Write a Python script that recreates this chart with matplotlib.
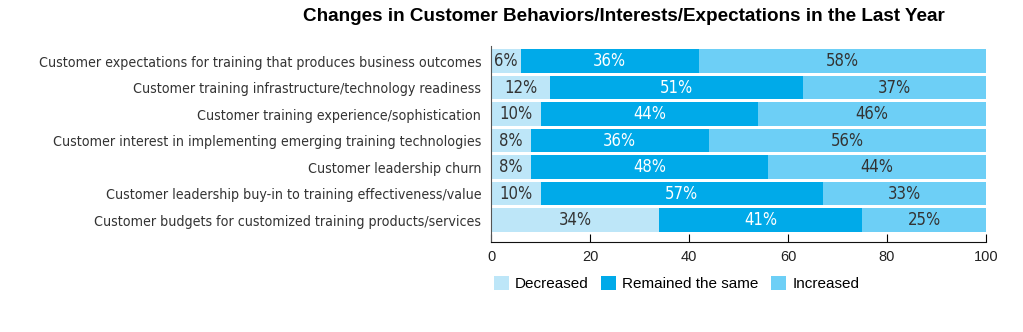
import matplotlib.pyplot as plt
import numpy as np

categories = [
    "Customer expectations for training that produces business outcomes",
    "Customer training infrastructure/technology readiness",
    "Customer training experience/sophistication",
    "Customer interest in implementing emerging training technologies",
    "Customer leadership churn",
    "Customer leadership buy-in to training effectiveness/value",
    "Customer budgets for customized training products/services",
]
decreased = [6, 12, 10, 8, 8, 10, 34]
remained = [36, 51, 44, 36, 48, 57, 41]
increased = [58, 37, 46, 56, 44, 33, 25]
series_names = ["Decreased", "Remained the same", "Increased"]
colors = ["#bde6f8", "#00aae9", "#6dcff6"]
text_colors = ["#333333", "white", "#333333"]

fig = plt.figure(figsize=(10.23, 3.32), dpi=100)
ax = fig.add_axes([0.48, 0.271, 0.4838, 0.5904])

y = np.arange(len(categories))
left = np.zeros(len(categories))
for vals, name, c, tc in zip([decreased, remained, increased], series_names, colors, text_colors):
    vals = np.array(vals)
    ax.barh(y, vals, left=left, height=0.88, color=c, label=name)
    for yi, l, v in zip(y, left, vals):
        ax.text(l + v / 2, yi, f"{v}%", ha="center", va="center",
                color=tc, fontsize=12, family="DejaVu Sans", fontstretch="condensed")
    left += vals

ax.set_xlim(0, 100)
ax.set_ylim(6.83, -0.57)
ax.set_yticks(y)
ax.set_yticklabels(categories, family="DejaVu Sans", fontstretch="condensed",
                   fontsize=10.2, color="#333333")
ax.tick_params(axis="y", length=0, pad=7)
ax.set_xticks([0, 20, 40, 60, 80, 100])
ax.tick_params(axis="x", direction="in", length=6, pad=6, labelsize=10.5, labelcolor="#222222")
for lab in ax.get_xticklabels():
    lab.set_family("Liberation Sans")
for s in ["top", "right"]:
    ax.spines[s].set_visible(False)
ax.spines["left"].set_color("#555555")
ax.spines["bottom"].set_color("#111111")

fig.text(0.61, 0.95, "Changes in Customer Behaviors/Interests/Expectations in the Last Year",
         ha="center", va="center", fontsize=13.6, fontweight="bold", family="Liberation Sans")

fig.legend(loc="upper left", bbox_to_anchor=(0.469, 0.21), ncol=3, frameon=False,
           handlelength=1.0, handleheight=1.0, handletextpad=0.4, columnspacing=0.8,
           prop={"family": "Liberation Sans", "size": 11})

fig.savefig("out.png", dpi=100)
